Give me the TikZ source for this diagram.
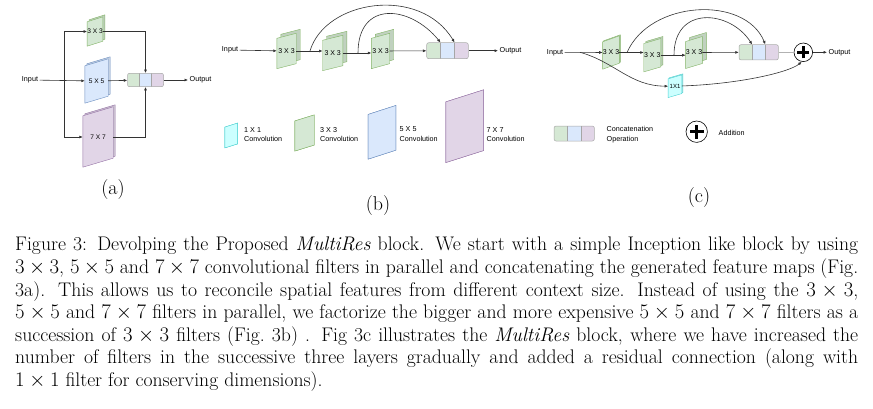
\documentclass[tikz,border=0pt]{standalone}
\usepackage{fontspec}
\newfontfamily\diafont{Liberation Sans}
\usetikzlibrary{arrows.meta,calc}
\pgfdeclarelayer{bg}
\pgfsetlayers{bg,main}
\definecolor{gfill}{HTML}{D5E8D4}
\definecolor{gline}{HTML}{82B366}
\definecolor{bfill}{HTML}{DAE8FC}
\definecolor{bline}{HTML}{6C8EBF}
\definecolor{pfill}{HTML}{E1D5E7}
\definecolor{pline}{HTML}{9673A6}
\definecolor{cfill}{HTML}{CCFFFF}
\definecolor{cline}{HTML}{4DD2D2}
\definecolor{wire}{HTML}{333333}

\tikzset{
  filt/.style={inner sep=0pt, font=\diafont\fontsize{7}{8}\selectfont},
  afilt/.style={filt, font=\diafont\fontsize{6.6}{8}\selectfont},
  lbl/.style={inner sep=1.5pt, font=\diafont\fontsize{7.2}{9.5}\selectfont},
  legtxt/.style={lbl, anchor=west, align=left},
  conn/.style={draw=wire, line width=0.6pt, ->},
  catbox/.style={draw=gray!70, line width=0.5pt, rounded corners=2pt, inner sep=0pt,
    minimum width=#1,
    path picture={
      \fill[gfill, sharp corners] (path picture bounding box.north west) rectangle ([xshift=#1/3]path picture bounding box.south west);
      \fill[bfill, sharp corners] ([xshift=#1/3]path picture bounding box.north west) rectangle ([xshift=2*#1/3]path picture bounding box.south west);
      \fill[pfill, sharp corners] ([xshift=2*#1/3]path picture bounding box.north west) rectangle (path picture bounding box.south east);
      \draw[gray!70, sharp corners] ([xshift=#1/3]path picture bounding box.north west) -- ([xshift=#1/3]path picture bounding box.south west)
        ([xshift=2*#1/3]path picture bounding box.north west) -- ([xshift=2*#1/3]path picture bounding box.south west);
    }},
  addop/.style={circle, draw=black, line width=0.6pt, minimum size=#1, inner sep=0pt,
    path picture={
      \draw[line width=2.6pt] ([xshift=-0.32*#1]path picture bounding box.center) -- ([xshift=0.32*#1]path picture bounding box.center)
        ([yshift=-0.32*#1]path picture bounding box.center) -- ([yshift=0.32*#1]path picture bounding box.center);
    }},
  sublbl/.style={inner sep=0pt, font=\fontsize{20}{24}\selectfont},
  captxt/.style={anchor=north west, inner sep=0pt, text width=843pt, align=justify,
    font=\fontsize{19.7}{22.6}\selectfont}
}

% filter face: node, skew, depth, fill, line
\newcommand\convface[5]{%
  \begin{pgfonlayer}{bg}
    \filldraw[fill=#4!90!black, draw=#5, line width=0.4pt]
      ($(#1.north west)+(#3,#2-#3)$) -- ($(#1.north east)+(#3,-#3)$)
      -- ($(#1.south east)+(#3,-#2-#3)$) -- ($(#1.south west)+(#3,-#3)$) -- cycle;
    \filldraw[fill=#4, draw=#5, line width=0.4pt]
      ($(#1.north west)+(0,#2)$) -- (#1.north east)
      -- ($(#1.south east)+(0,-#2)$) -- (#1.south west) -- cycle;
  \end{pgfonlayer}}

\begin{document}
\begin{tikzpicture}[x=1pt, y=-1pt, >={Latex[length=3.5pt,width=3pt]}]
\useasboundingbox (0,0) rectangle (873,408);

% (a)
\node[lbl] (ain) at (30,80) {Input};
\node[afilt, minimum width=14pt, minimum height=29pt] (a3) at (95,31.5) {3 X 3};
\node[afilt, minimum width=23pt, minimum height=44pt] (a5) at (96.5,81) {5 X 5};
\node[afilt, minimum width=30pt, minimum height=60pt] (a7) at (98,137) {7 X 7};
\convface{a3}{5}{2}{gfill}{gline}
\convface{a5}{7}{2}{bfill}{bline}
\convface{a7}{9}{2}{pfill}{pline}
\node[catbox=36pt, minimum height=13.4pt] (acat) at (145.5,80) {};
\node[lbl, anchor=west] (aout) at (188,80) {Output};
\coordinate (asplit) at (64,80);
\draw[conn] (ain) -- (a5);
\draw[conn] (asplit) |- (a3);
\draw[conn] (asplit) |- (a7);
\draw[conn] (a5) -- (acat);
\draw[conn] (a3) -| (acat);
\draw[conn] (a7) -| (acat);
\draw[conn] (acat) -- (aout);
\node[sublbl] (la) at (113,190) {(a)};

% (b)
\node[lbl] (bin) at (230,50) {Input};
\node[filt, minimum width=19pt, minimum height=35pt] (b1) at (286.5,51) {3 X 3};
\node[filt, minimum width=20pt, minimum height=35pt] (b2) at (332.7,53) {3 X 3};
\node[filt, minimum width=18pt, minimum height=35pt] (b3) at (380.5,51) {3 X 3};
\convface{b1}{5}{4}{gfill}{gline}
\convface{b2}{5}{4}{gfill}{gline}
\convface{b3}{5}{4}{gfill}{gline}
\node[catbox=41.6pt, minimum height=16pt] (bcat) at (447.5,50.7) {};
\node[lbl, anchor=west] (bout) at (498,50.7) {Output};
\draw[conn] (bin) -- (b1);
\draw[conn] (b1.east) -- (b1.east -| b2.west);
\draw[conn] (b2.east) -- (b2.east -| b3.west);
\draw[conn] (b3) -- (bcat);
\draw[conn] (bcat) -- (bout);
\coordinate (bs1) at (310,51);
\coordinate (bs2) at (358,53);
\coordinate (bt1) at ($(bcat.north west)!1/3!(bcat.north east)$);
\coordinate (bt2) at ($(bcat.north west)!2/3!(bcat.north east)$);
\draw[conn] (bs1) .. controls (325,0) and (420,-15) .. (bt2);
\draw[conn] (bs2) .. controls (358,0) and (410,5) .. (bt1);

\node[filt, minimum width=12.3pt, minimum height=24.4pt] (k1) at (231.2,135.5) {};
\node[filt, minimum width=19pt, minimum height=35.7pt] (k3) at (304.5,133) {};
\node[filt, minimum width=27.4pt, minimum height=53.3pt] (k5) at (382,132.3) {};
\node[filt, minimum width=37.3pt, minimum height=72.3pt] (k7) at (464.7,126.2) {};
\convface{k1}{4}{0}{cfill}{cline}
\convface{k3}{6}{0}{gfill}{gline}
\convface{k5}{9}{0}{bfill}{bline}
\convface{k7}{12}{0}{pfill}{pline}
\node[legtxt] (k1t) at (242.5,134.5) {1 X 1\\Convolution};
\node[legtxt] (k3t) at (318.5,134.5) {3 X 3\\Convolution};
\node[legtxt] (k5t) at (398,134) {5 X 5\\Convolution};
\node[legtxt] (k7t) at (485,134.5) {7 X 7\\Convolution};
\node[sublbl] (lb) at (378,206) {(b)};

% (c)
\node[lbl] (cin) at (555,52.3) {Input};
\node[filt, minimum width=16pt, minimum height=33pt] (c1) at (611,52.5) {3 X 3};
\node[filt, minimum width=16.7pt, minimum height=33pt] (c2) at (652.3,55.2) {3 X 3};
\node[filt, minimum width=16pt, minimum height=31.6pt] (c3) at (694,52.5) {3 X 3};
\node[filt, font=\diafont\fontsize{6}{7}\selectfont, minimum width=13.4pt, minimum height=22.3pt] (c11) at (675,86.2) {1X1};
\convface{c1}{6}{1}{gfill}{gline}
\convface{c2}{5}{2}{gfill}{gline}
\convface{c3}{5}{4}{gfill}{gline}
\convface{c11}{4}{1}{cfill}{cline}
\node[catbox=39.3pt, minimum height=15.3pt] (ccat) at (758.7,52.3) {};
\node[addop=18.6pt] (cadd) at (803.3,52.3) {};
\node[lbl, anchor=west] (cout) at (827,52.3) {Output};
\draw[conn] (cin) -- (c1);
\draw[conn] (c1.east) -- (c1.east -| c2.west);
\draw[conn] (c2.east) -- (c2.east -| c3.west);
\draw[conn] (c3) -- (ccat);
\draw[draw=gray!60, line width=1.5pt] (ccat) -- (cadd);
\draw[conn] (cadd) -- (cout);
\coordinate (cs0) at (580,52.3);
\coordinate (cs1) at (627,52.5);
\coordinate (cs2) at (674,55.2);
\coordinate (ct1) at ($(ccat.north west)!1/3!(ccat.north east)$);
\coordinate (ct2) at ($(ccat.north west)!2/3!(ccat.north east)$);
\draw[conn] (cs1) .. controls (650,0) and (745,-5) .. (ct2);
\draw[conn] (cs2) .. controls (674,5) and (730,10) .. (ct1);
\draw[conn] (cs0) .. controls (615,62) and (630,86) .. (c11);
\draw[conn] (c11) .. controls (740,84) and (790,72) .. (cadd.-100);

\node[catbox=40.3pt, minimum height=15pt] (kcat) at (574.2,133.5) {};
\node[legtxt] (kcatt) at (605,134.5) {Concatenation\\Operation};
\node[addop=21.4pt] (kadd) at (696.7,131.7) {};
\node[legtxt] (kaddt) at (717,132.7) {Addition};
\node[sublbl] (lc) at (699,198) {(c)};

% caption
\node[captxt] (cap) at (15,237) {\noindent Figure 3: Devolping the Proposed \emph{MultiRes} block. We start with a simple Inception like block by using\linebreak
$3\times3$, $5\times5$ and $7\times7$ convolutional filters in parallel and concatenating the generated feature maps (Fig.\linebreak
3a). This allows us to reconcile spatial features from different context size. Instead of using the $3\times3$,\linebreak
$5\times5$ and $7\times7$ filters in parallel, we factorize the bigger and more expensive $5\times5$ and $7\times7$ filters as a\linebreak
succession of $3\times3$ filters (Fig.\ 3b) . Fig 3c illustrates the \emph{MultiRes} block, where we have increased the\linebreak
number of filters in the successive three layers gradually and added a residual connection (along with\linebreak
$1\times1$ filter for conserving dimensions).};
\end{tikzpicture}
\end{document}
